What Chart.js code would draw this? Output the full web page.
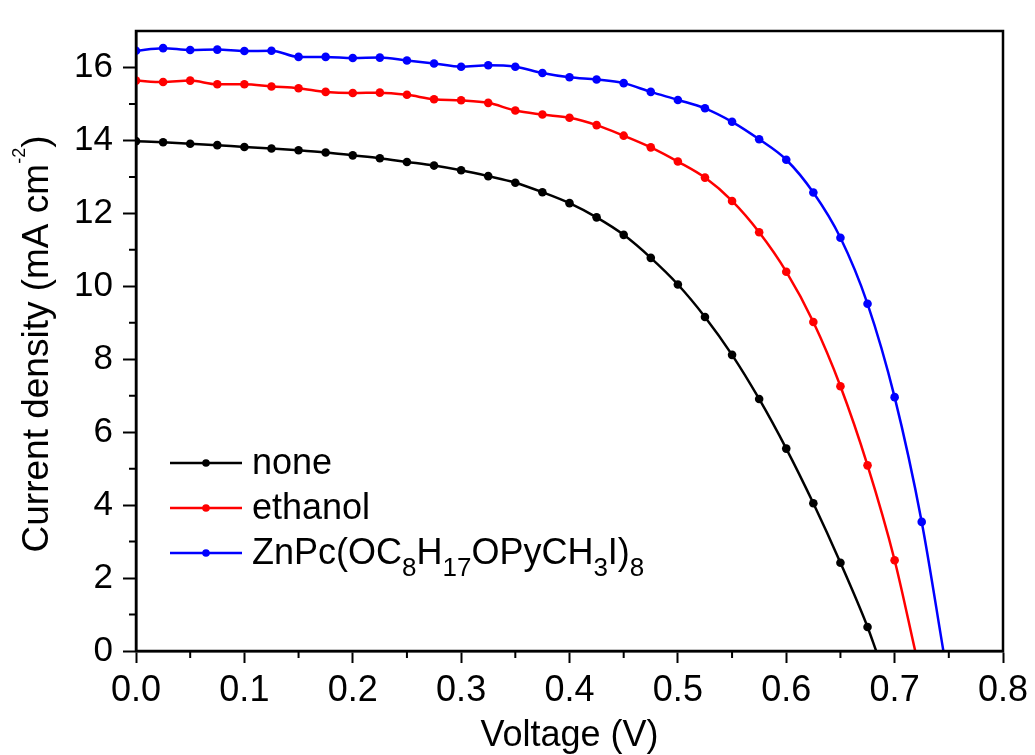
<!DOCTYPE html>
<html>
<head>
<meta charset="utf-8">
<script src="https://cdn.jsdelivr.net/npm/chart.js"></script>
<style>
    body { margin: 0; background: #fff; }
    canvas { display: block; }
</style>
</head>
<body>
<canvas id="graficoJV" width="1035" height="755"></canvas>
<script>
const tensao = [0, 0.025, 0.05, 0.075, 0.1, 0.125, 0.15, 0.175, 0.2, 0.225, 0.25, 0.275, 0.3, 0.325, 0.35,
    0.375, 0.4, 0.425, 0.45, 0.475, 0.5, 0.525, 0.55, 0.575, 0.6, 0.625, 0.65, 0.675, 0.7, 0.725];

const jNone = [13.98, 13.95, 13.91, 13.87, 13.82, 13.78, 13.73, 13.67, 13.59, 13.51, 13.41, 13.31, 13.18, 13.02,
    12.84, 12.58, 12.28, 11.89, 11.41, 10.78, 10.05, 9.16, 8.12, 6.91, 5.55, 4.05, 2.42, 0.66];
const jEthanol = [15.64, 15.60, 15.64, 15.54, 15.54, 15.48, 15.43, 15.33, 15.30, 15.31, 15.25, 15.13, 15.10, 15.03,
    14.82, 14.71, 14.62, 14.42, 14.13, 13.81, 13.42, 12.98, 12.34, 11.48, 10.40, 9.02, 7.26, 5.09, 2.49];
const jZnPc = [16.46, 16.53, 16.48, 16.49, 16.45, 16.46, 16.29, 16.29, 16.26, 16.27, 16.19, 16.11, 16.02, 16.06,
    16.02, 15.85, 15.73, 15.67, 15.57, 15.33, 15.11, 14.88, 14.51, 14.03, 13.47, 12.57, 11.33, 9.52, 6.96, 3.54];

// tensao de circuito aberto (onde a curva corta o zero)
const voc = [0.683, 0.719, 0.745];

const nomes = ['none', 'ethanol', 'ZnPc(OC_{8}H_{17}OPyCH_{3}I)_{8}'];
const cores = ['#000000', '#ff0000', '#0000ff'];
const tituloX = 'Voltage (V)';
const tituloY = 'Current density (mA cm^{-2})';

const fonte = "'Liberation Sans', Arial, sans-serif";
Chart.defaults.font.family = fonte;
Chart.defaults.color = '#000';

function montarPontos(valores, v0) {
    const pts = valores.map((j, i) => ({ x: tensao[i], y: j }));
    pts.push({ x: v0, y: 0 });
    return pts;
}

function partesTexto(texto) {
    const partes = [];
    const re = /([_^])\{([^}]*)\}/g;
    let ultimo = 0, m;
    while ((m = re.exec(texto)) !== null) {
        if (m.index > ultimo) partes.push({ t: texto.slice(ultimo, m.index), tipo: '' });
        partes.push({ t: m[2], tipo: m[1] });
        ultimo = re.lastIndex;
    }
    if (ultimo < texto.length) partes.push({ t: texto.slice(ultimo), tipo: '' });
    return partes;
}

function fontePara(tipo, tam) {
    if (tipo === '_') return { f: `26px ${fonte}`, dy: 12 };
    if (tipo === '^') return { f: `18px ${fonte}`, dy: -23 };
    return { f: `${tam}px ${fonte}`, dy: 0 };
}

function larguraTexto(ctx, texto, tam) {
    let w = 0;
    for (const p of partesTexto(texto)) {
        ctx.font = fontePara(p.tipo, tam).f;
        w += ctx.measureText(p.t).width;
    }
    return w;
}

function escreverTexto(ctx, texto, x, y, tam) {
    ctx.textBaseline = 'alphabetic';
    ctx.textAlign = 'left';
    for (const p of partesTexto(texto)) {
        const st = fontePara(p.tipo, tam);
        ctx.font = st.f;
        ctx.fillText(p.t, x, y + st.dy);
        x += ctx.measureText(p.t).width;
    }
}

const extras = {
    id: 'extras',
    afterDraw(chart) {
        const { ctx, chartArea: a, scales } = chart;
        ctx.save();
        ctx.strokeStyle = '#000';
        ctx.fillStyle = '#000';

        // moldura
        ctx.lineWidth = 2.5;
        ctx.strokeRect(a.left, a.top, a.right - a.left, a.bottom - a.top);

        // ticks menores
        ctx.lineWidth = 2;
        ctx.beginPath();
        for (const t of scales.x.ticks) {
            if (Math.round(t.value * 20) % 2 === 1) {
                const px = scales.x.getPixelForValue(t.value);
                ctx.moveTo(px, a.bottom);
                ctx.lineTo(px, a.bottom + 7);
            }
        }
        for (const t of scales.y.ticks) {
            if (t.value % 2 === 1 && t.value < 17) {
                const py = scales.y.getPixelForValue(t.value);
                ctx.moveTo(a.left, py);
                ctx.lineTo(a.left - 7, py);
            }
        }
        ctx.stroke();

        // titulo do eixo y
        ctx.save();
        const wY = larguraTexto(ctx, tituloY, 37);
        ctx.translate(48, (a.top + a.bottom) / 2 + 3);
        ctx.rotate(-Math.PI / 2);
        escreverTexto(ctx, tituloY, -wY / 2, 0, 37);
        ctx.restore();

        // legenda
        nomes.forEach((nome, i) => {
            const yl = 463 + i * 45;
            ctx.strokeStyle = cores[i];
            ctx.fillStyle = cores[i];
            ctx.lineWidth = 2.5;
            ctx.beginPath();
            ctx.moveTo(170, yl);
            ctx.lineTo(242, yl);
            ctx.stroke();
            ctx.beginPath();
            ctx.arc(206, yl, 3.8, 0, Math.PI * 2);
            ctx.fill();
            ctx.fillStyle = '#000';
            escreverTexto(ctx, nome, 252, yl + 11, 36);
        });
        ctx.restore();
    }
};

function carregarGrafico() {
    const series = [jNone, jEthanol, jZnPc];
    const datasets = series.map((valores, i) => ({
        label: partesTexto(nomes[i]).map(p => p.t).join(''),
        data: montarPontos(valores, voc[i]),
        borderColor: cores[i],
        backgroundColor: cores[i],
        borderWidth: 2.5,
        pointBackgroundColor: cores[i],
        pointBorderWidth: 0,
        pointRadius: ctx => ctx.dataIndex < valores.length ? 4.3 : 0,
        cubicInterpolationMode: 'monotone'
    }));

    new Chart(document.getElementById('graficoJV'), {
        type: 'line',
        data: { datasets },
        options: {
            responsive: false,
            animation: false,
            layout: { padding: { top: 14, right: 32, left: 0, bottom: 0 } },
            plugins: { legend: { display: false }, tooltip: { enabled: false } },
            scales: {
                x: {
                    type: 'linear',
                    min: 0,
                    max: 0.8,
                    afterFit: s => { s.height = 104; },
                    border: { color: '#000', width: 2.5 },
                    grid: {
                        drawOnChartArea: false,
                        tickLength: 12,
                        tickWidth: 2,
                        tickColor: c => Math.round(c.tick.value * 20) % 2 === 0 ? '#000' : 'rgba(0,0,0,0)'
                    },
                    ticks: {
                        stepSize: 0.05,
                        padding: 6,
                        maxRotation: 0,
                        autoSkip: false,
                        font: { size: 36 },
                        callback: v => Math.round(v * 20) % 2 === 0 ? v.toFixed(1) : ''
                    },
                    title: {
                        display: true,
                        text: tituloX,
                        font: { size: 36, lineHeight: 1.05 },
                        padding: { top: 0, bottom: 0 }
                    }
                },
                y: {
                    min: 0,
                    max: 17,
                    afterFit: s => { s.width = 136; },
                    border: { color: '#000', width: 2.5 },
                    grid: {
                        drawOnChartArea: false,
                        tickLength: 13,
                        tickWidth: 2,
                        tickColor: c => c.tick.value % 2 === 0 ? '#000' : 'rgba(0,0,0,0)'
                    },
                    ticks: {
                        stepSize: 1,
                        padding: 10,
                        autoSkip: false,
                        font: { size: 35 },
                        callback: v => v % 2 === 0 ? String(v) : ''
                    }
                }
            }
        },
        plugins: [extras]
    });
}

carregarGrafico();
</script>
</body>
</html>
